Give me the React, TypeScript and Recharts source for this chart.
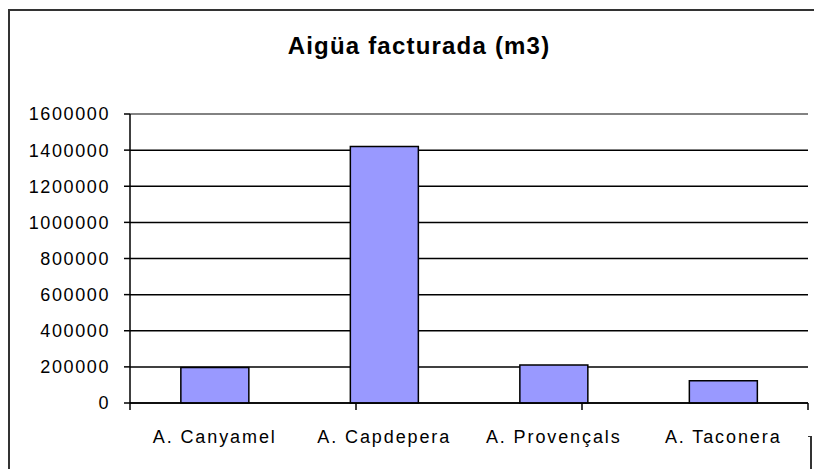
import React from 'react';
import { BarChart, Bar, XAxis, YAxis, CartesianGrid, ReferenceLine } from 'recharts';

const categories = ['A. Canyamel', 'A. Capdepera', 'A. Provençals', 'A. Taconera'];
const aiguaFacturada = [197000, 1420000, 210000, 123000];
const yTicks = [0, 200000, 400000, 600000, 800000, 1000000, 1200000, 1400000, 1600000];
const boundaryTicks = [0, 1, 2, 3, 4];

const data = categories.map((name, i) => ({ name, value: aiguaFacturada[i] }));

const FONT = '"Liberation Sans", Arial, sans-serif';

const App: React.FC = () => {
    return (
        <div style={{ position: 'absolute', left: 0, top: 0, width: 814, height: 469, overflow: 'hidden', background: '#fff' }}>
            {/* chart frame, cut off on the right and bottom */}
            <div style={{ position: 'absolute', left: 8, top: 9, width: 900, height: 600, border: '2px solid #333' }} />
            <div style={{ position: 'absolute', left: 808, top: 436, width: 2, height: 40, borderTop: '1px solid #333', borderRight: '2px solid #333' }} />

            <div
                style={{
                    position: 'absolute',
                    left: 0,
                    top: 32,
                    width: 838,
                    textAlign: 'center',
                    fontFamily: FONT,
                    fontWeight: 'bold',
                    fontSize: 24,
                    letterSpacing: 1.2,
                    color: '#000',
                }}
            >
                Aigüa facturada (m3)
            </div>

            <BarChart
                width={814}
                height={469}
                data={data}
                margin={{ top: 114, right: 6, left: 0, bottom: 26 }}
                barCategoryGap="30%"
                style={{ position: 'absolute', left: 0, top: 0 }}
            >
                <CartesianGrid xAxisId="cat" vertical={false} stroke="#000" strokeWidth={1.5} />
                {/* ticks between categories, as in the Excel original */}
                <XAxis
                    xAxisId="bounds"
                    type="number"
                    domain={[0, 4]}
                    ticks={boundaryTicks}
                    interval={0}
                    tick={() => <g />}
                    height={8}
                    stroke="#000"
                    strokeWidth={1.5}
                    tickSize={7}
                    allowDataOverflow
                />
                <XAxis
                    xAxisId="cat"
                    dataKey="name"
                    height={32}
                    axisLine={false}
                    tickLine={false}
                    tickSize={0}
                    tickMargin={19}
                    interval={0}
                    tick={{ fill: '#000', fontFamily: FONT, fontSize: 18, letterSpacing: 1.9 }}
                />
                <YAxis
                    width={130}
                    domain={[0, 1600000]}
                    ticks={yTicks}
                    interval={0}
                    stroke="#000"
                    strokeWidth={1.5}
                    tickSize={6}
                    tickMargin={14}
                    tick={{ fill: '#000', fontFamily: FONT, fontSize: 18, letterSpacing: 1.6 }}
                />
                <ReferenceLine xAxisId="cat" y={1600000} stroke="#999" strokeWidth={1.5} />
                <ReferenceLine xAxisId="bounds" x={4} stroke="#999" strokeWidth={1.5} />
                <Bar xAxisId="cat" dataKey="value" fill="#9999FF" stroke="#000" strokeWidth={1.5} isAnimationActive={false} />
            </BarChart>
        </div>
    );
};

export default App;
